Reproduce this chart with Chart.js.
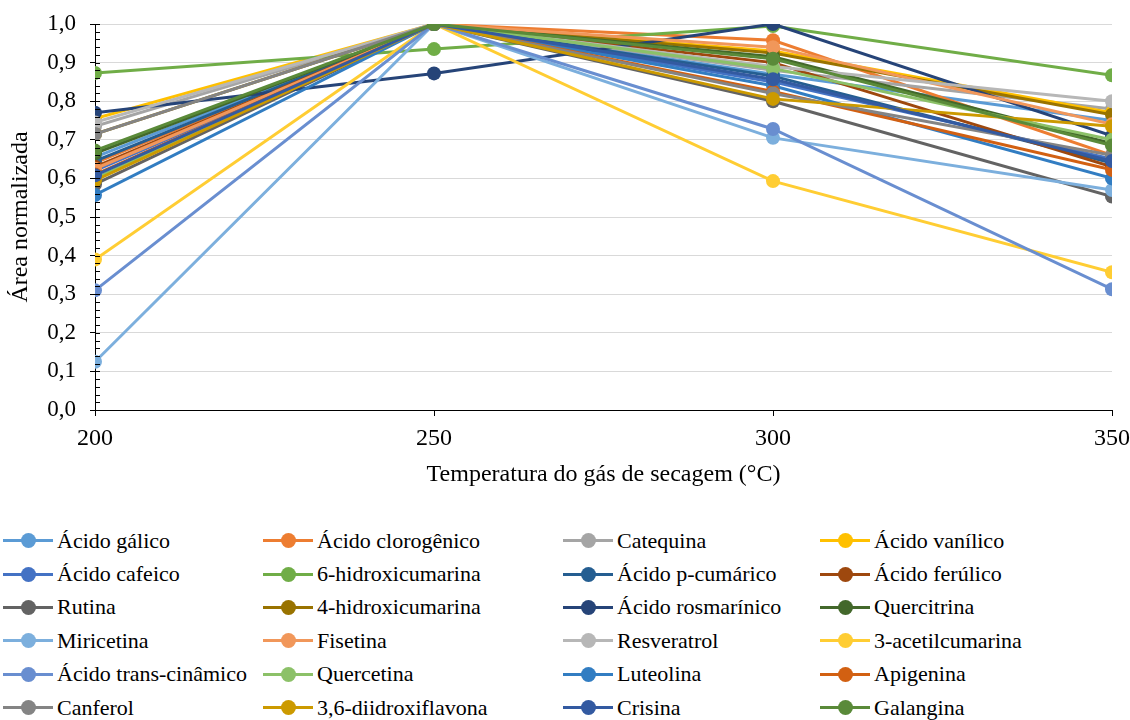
<!DOCTYPE html>
<html>
<head>
<meta charset="utf-8">
<script src="https://cdn.jsdelivr.net/npm/chart.js@4/dist/chart.umd.min.js"></script>
<style>
    body { margin: 0; background: #fff; font-family: "Liberation Serif", "Times New Roman", serif; }
    #wrap { position: relative; width: 1130px; height: 720px; overflow: hidden; }
    #chartBox { position: absolute; left: 0; top: 0; width: 1130px; height: 495px; }
    #legend {
        position: absolute; left: 3px; top: 524px;
        display: grid;
        grid-template-columns: 260px 300px 257px 250px;
        grid-auto-rows: 33.4px;
        font-size: 22px; color: #000;
    }
    .item { display: flex; align-items: center; white-space: nowrap; }
    .swatch { position: relative; width: 50px; height: 3px; margin-right: 4px; }
    .swatch::after {
        content: ""; position: absolute; left: 18px; top: -6px;
        width: 15px; height: 15px; border-radius: 50%; background: inherit;
    }
</style>
</head>
<body>
<div id="wrap">
    <div id="chartBox"><canvas id="chart"></canvas></div>
    <div id="legend"></div>
</div>
<script>
// Temperatures (x) and tick labels
const temperatures = [200, 250, 300, 350];
const yTicks = ['0,0', '0,1', '0,2', '0,3', '0,4', '0,5', '0,6', '0,7', '0,8', '0,9', '1,0'];

// Normalized area per compound
const acidoGalico = [0.655, 1, 0.87, 0.75];
const acidoClorogenico = [0.64, 1, 0.958, 0.66];
const catequina = [0.735, 1, 0.88, 0.78];
const acidoVanilico = [0.755, 1, 0.93, 0.77];
const acidoCafeico = [0.62, 1, 0.85, 0.65];
const hidroxicumarina6 = [0.873, 0.935, 0.995, 0.867];
const acidoPCumarico = [0.645, 1, 0.865, 0.64];
const acidoFerulico = [0.63, 1, 0.9, 0.63];
const rutina = [0.585, 1, 0.8, 0.553];
const hidroxicumarina4 = [0.715, 1, 0.925, 0.765];
const acidoRosmarinico = [0.77, 0.872, 1, 0.71];
const quercitrina = [0.665, 1, 0.915, 0.69];
const miricetina = [0.125, 1, 0.705, 0.57];
const fisetina = [0.625, 1, 0.94, 0.74];
const resveratrol = [0.745, 1, 0.89, 0.8];
const acetilcumarina3 = [0.39, 1, 0.593, 0.357];
const acidoTransCinamico = [0.31, 1, 0.728, 0.313];
const quercetina = [0.6, 1, 0.885, 0.7];
const luteolina = [0.557, 1, 0.84, 0.6];
const apigenina = [0.61, 1, 0.825, 0.622];
const canferol = [0.715, 1, 0.82, 0.66];
const diidroxiflavona36 = [0.595, 1, 0.806, 0.735];
const crisina = [0.608, 1, 0.857, 0.645];
const galangina = [0.672, 1, 0.91, 0.685];

const seriesNames = [
    'Ácido gálico', 'Ácido clorogênico', 'Catequina', 'Ácido vanílico',
    'Ácido cafeico', '6-hidroxicumarina', 'Ácido p-cumárico', 'Ácido ferúlico',
    'Rutina', '4-hidroxicumarina', 'Ácido rosmarínico', 'Quercitrina',
    'Miricetina', 'Fisetina', 'Resveratrol', '3-acetilcumarina',
    'Ácido trans-cinâmico', 'Quercetina', 'Luteolina', 'Apigenina',
    'Canferol', '3,6-diidroxiflavona', 'Crisina', 'Galangina'
];
const seriesValues = [
    acidoGalico, acidoClorogenico, catequina, acidoVanilico,
    acidoCafeico, hidroxicumarina6, acidoPCumarico, acidoFerulico,
    rutina, hidroxicumarina4, acidoRosmarinico, quercitrina,
    miricetina, fisetina, resveratrol, acetilcumarina3,
    acidoTransCinamico, quercetina, luteolina, apigenina,
    canferol, diidroxiflavona36, crisina, galangina
];
const seriesColors = [
    '#5B9BD5', '#ED7D31', '#A5A5A5', '#FFC000',
    '#4472C4', '#70AD47', '#255E91', '#9E480E',
    '#636363', '#997300', '#264478', '#43682B',
    '#7CAFDD', '#F1975A', '#B7B7B7', '#FFCD33',
    '#698ED0', '#8CC168', '#327DC2', '#D26012',
    '#848484', '#CC9A00', '#335AA1', '#5A8A39'
];

const FONT = "'Liberation Serif', 'Times New Roman', serif";

// Excel-style minor ticks on the value axis
const axisTicks = {
    id: 'axisTicks',
    afterDraw(chart) {
        const y = chart.scales.y;
        const x0 = chart.scales.x.left;
        const ctx = chart.ctx;
        ctx.save();
        ctx.strokeStyle = '#000';
        ctx.lineWidth = 1;
        ctx.beginPath();
        for (let k = 0; k <= 50; k++) {
            const py = Math.round(y.getPixelForValue(k / 50)) + 0.5;
            ctx.moveTo(x0, py);
            ctx.lineTo(x0 + 5, py);
        }
        ctx.stroke();
        ctx.restore();
    }
};

const datasets = seriesNames.map((name, i) => ({
    label: name,
    data: temperatures.map((t, j) => ({ x: t, y: seriesValues[i][j] })),
    borderColor: seriesColors[i],
    backgroundColor: seriesColors[i],
    borderWidth: 3,
    pointRadius: 7,
    pointBorderWidth: 0,
    pointHoverRadius: 7,
    tension: 0,
    order: -i
}));

new Chart(document.getElementById('chart'), {
    type: 'line',
    data: { datasets },
    options: {
        responsive: true,
        maintainAspectRatio: false,
        animation: false,
        layout: { padding: { top: 24, right: 18, left: 0, bottom: 0 } },
        plugins: { legend: { display: false }, tooltip: { enabled: false } },
        scales: {
            x: {
                type: 'linear',
                min: 200,
                max: 350,
                afterFit: s => {
                    s.height = 85;
                    s.paddingLeft = 0;
                    s.paddingRight = 0;
                },
                border: { color: '#000', width: 1 },
                grid: { drawOnChartArea: false, drawTicks: true, tickLength: 6, tickColor: '#000' },
                ticks: {
                    stepSize: 50,
                    padding: 8,
                    color: '#000',
                    font: { family: FONT, size: 24 }
                },
                title: {
                    display: true,
                    text: 'Temperatura do gás de secagem (°C)',
                    color: '#000',
                    font: { family: FONT, size: 24 },
                    padding: { top: 0, bottom: 6 }
                }
            },
            y: {
                min: 0,
                max: 1,
                afterFit: s => {
                    s.width = 95;
                    s.paddingTop = 0;
                    s.paddingBottom = 0;
                },
                border: { color: '#000', width: 1 },
                grid: {
                    color: c => (c.tick && c.tick.value === 0 ? 'rgba(0,0,0,0)' : '#D9D9D9'),
                    lineWidth: 1,
                    drawTicks: true,
                    tickLength: 5,
                    tickColor: '#000'
                },
                ticks: {
                    stepSize: 0.1,
                    padding: 14,
                    color: '#000',
                    font: { family: FONT, size: 23 },
                    callback: (v) => yTicks[Math.round(v * 10)]
                },
                title: {
                    display: true,
                    text: 'Área normalizada',
                    color: '#000',
                    font: { family: FONT, size: 24 },
                    padding: { top: 6, bottom: 0 }
                }
            }
        }
    },
    plugins: [axisTicks]
});

// Legend in four columns, row by row like the original
const legend = document.getElementById('legend');
seriesNames.forEach((name, i) => {
    const item = document.createElement('div');
    item.className = 'item';
    const sw = document.createElement('span');
    sw.className = 'swatch';
    sw.style.background = seriesColors[i];
    item.appendChild(sw);
    item.appendChild(document.createTextNode(name));
    legend.appendChild(item);
});
</script>
</body>
</html>
